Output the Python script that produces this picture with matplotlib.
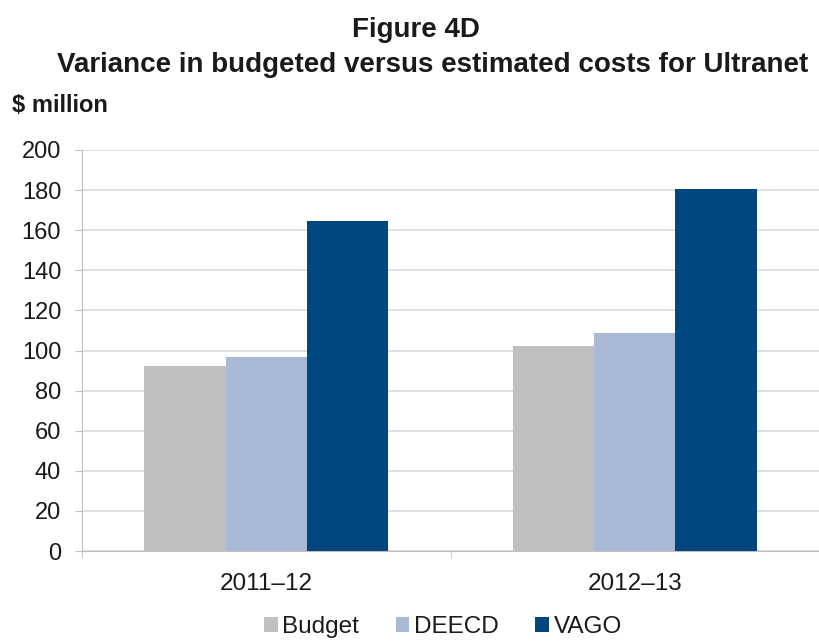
import matplotlib.pyplot as plt
import numpy as np

plt.rcParams['font.family'] = ['Liberation Sans', 'DejaVu Sans']

years = ['2011–12', '2012–13']
budget = [92.5, 102.2]
deecd = [96.8, 108.8]
vago = [164.6, 180.4]

series = [('Budget', budget, '#bfbfbf'),
          ('DEECD', deecd, '#a9b9d4'),
          ('VAGO', vago, '#00467f')]

fig = plt.figure(figsize=(8.19, 6.42), dpi=100)
ax = fig.add_axes([82/819, 91/642, 1 - 82/819, 401/642])

x = np.arange(len(years))
w = 0.221
for i, (name, vals, col) in enumerate(series):
    ax.bar(x + (i - 1) * w, vals, w, color=col, label=name, zorder=3)

ax.set_ylim(0, 200)
ax.set_yticks(range(0, 201, 20))
ax.set_xlim(-0.5, 1.5 - 5/371)
ax.set_xticks(x)
ax.set_xticklabels(years)
ax.set_xticks([-0.5, 0.5, 1.5], minor=True)
ax.grid(axis='y', color='#d9d9d9', linewidth=1.2, zorder=0)
for s in ['top', 'right']:
    ax.spines[s].set_visible(False)
ax.spines['left'].set_color('#bfbfbf')
ax.spines['bottom'].set_color('#bfbfbf')
ax.tick_params(axis='y', length=5, color='#bfbfbf', labelsize=17, pad=10,
               labelcolor='#1a1a1a')
ax.tick_params(axis='x', which='major', length=0, labelsize=17.5, pad=16,
               labelcolor='#1a1a1a')
ax.tick_params(axis='x', which='minor', length=5, color='#bfbfbf')

fig.text(416/819, 1 - 37/642, 'Figure 4D', ha='center', va='baseline',
         fontsize=20, fontweight='bold', color='#1a1a1a')
fig.text(433/819, 1 - 72/642, 'Variance in budgeted versus estimated costs for Ultranet',
         ha='center', va='baseline', fontsize=20, fontweight='bold', color='#1a1a1a')
fig.text(12/819, 1 - 105/642, '$ million', ha='left', va='center', fontsize=17,
         fontweight='bold', color='#1a1a1a')

fig.legend(loc='center', bbox_to_anchor=(443/819, 1 - 627/642), ncol=3, frameon=False,
           fontsize=17.5, handlelength=0.55, handleheight=0.55, handletextpad=0.2,
           columnspacing=1.5, borderpad=0, labelcolor='#1a1a1a')

fig.savefig('out.png', dpi=100)
